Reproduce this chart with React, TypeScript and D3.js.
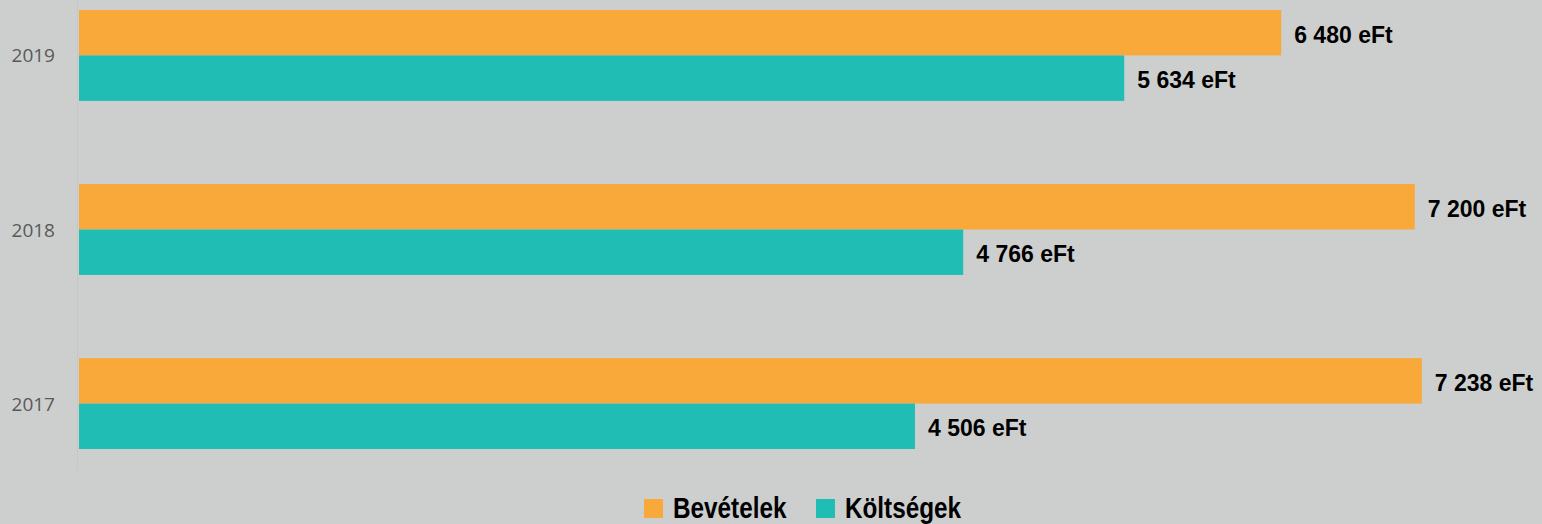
import React from "react";
import * as d3 from "d3";

const years = ["2019", "2018", "2017"];
const seriesNames = ["Bevételek", "Költségek"];
const bevetelek = [6480, 7200, 7238];
const koltsegek = [5634, 4766, 4506];
const colors = ["#f9a93a", "#1fbdb4"];

const W = 1542;
const H = 524;

const fmt = (v: number) => {
  const s = String(v);
  return s.replace(/\B(?=(\d{3})+(?!\d))/g, " ") + " eFt";
};

export default function App() {
  const x = d3.scaleLinear().domain([0, 8000]).range([79, 79 + 1484.2]);
  const y = d3.scaleBand<string>().domain(years).range([10, 449]).paddingInner(0.478).paddingOuter(0);
  const sub = d3.scaleBand<string>().domain(seriesNames).range([0, y.bandwidth()]).padding(0);
  const series = [bevetelek, koltsegek];
  const bold = "'Liberation Sans', Arial, sans-serif";

  return (
    <div style={{ position: "fixed", left: 0, top: 0, width: W, height: H }}>
      <svg width={W} height={H} style={{ display: "block" }}>
        <rect x={0} y={0} width={W} height={H} fill="#cdcfce" />
        <line x1={77.5} x2={77.5} y1={0} y2={470} stroke="#c6c8c7" strokeWidth={1} />
        {years.map((yr, i) => (
          <g key={yr}>
            <text
              x={55}
              y={(y(yr) as number) + y.bandwidth() / 2}
              textAnchor="end"
              dominantBaseline="central"
              fontFamily="'Open Sans', sans-serif"
              fontSize={19}
              fill="#595959"
            >
              {yr}
            </text>
            {series.map((vals, si) => {
              const yy = (y(yr) as number) + (sub(seriesNames[si]) as number);
              return (
                <g key={si}>
                  <rect x={x(0)} y={yy} width={x(vals[i]) - x(0)} height={sub.bandwidth()} fill={colors[si]} />
                  <text
                    x={x(vals[i]) + 13}
                    y={yy + sub.bandwidth() / 2 + 10}
                    fontFamily={bold}
                    fontWeight="bold"
                    fontSize={23}
                    fill="#000"
                  >
                    {fmt(vals[i])}
                  </text>
                </g>
              );
            })}
          </g>
        ))}
        {seriesNames.map((name, si) => {
          const lx = si === 0 ? 644 : 816;
          return (
            <g key={name}>
              <rect x={lx} y={499} width={19} height={19} fill={colors[si]} />
              <text
                transform={`translate(${lx + 29},518) scale(0.81,1)`}
                fontFamily={bold}
                fontWeight="bold"
                fontSize={30}
                fill="#000"
              >
                {name}
              </text>
            </g>
          );
        })}
      </svg>
    </div>
  );
}
